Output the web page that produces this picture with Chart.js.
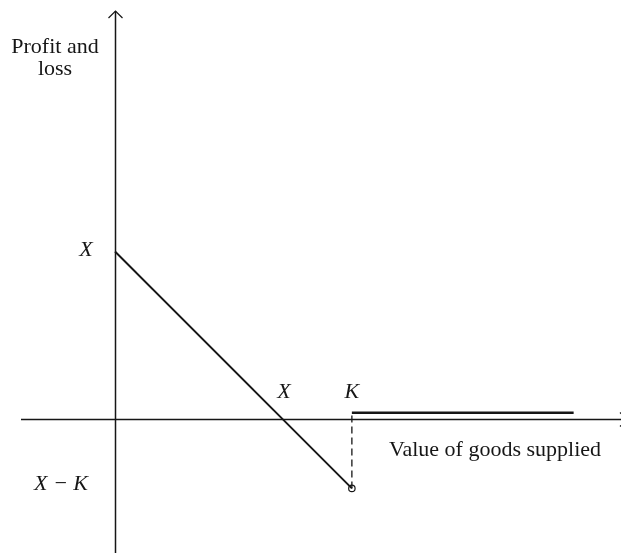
<!DOCTYPE html>
<html>
<head>
<meta charset="utf-8">
<script src="https://cdn.jsdelivr.net/npm/chart.js@4.4.1/dist/chart.umd.min.js"></script>
<style>
  html, body { margin: 0; padding: 0; background: #fff; }
  #wrap { width: 621px; height: 554px; position: relative; }
</style>
</head>
<body>
<div id="wrap"><canvas id="c" width="621" height="554"></canvas></div>
<script>
// ---- Data (value units: X = 100) ----
const X_VALUE = 100;          // intercept X
const K_VALUE = 141;          // strike K
const lossLineX = [0, 141];   // profit/loss line, x values
const lossLineY = [100, -41]; // profit/loss line, y values (X ... X−K)
const flatLineX = [141, 273]; // payoff beyond K
const flatLineY = [4, 4];
const dashX = [141, 141];
const dashY = [-41, 4];
const labelsText = {
  yTitle: ['Profit and', 'loss'],
  xTitle: 'Value of goods supplied',
  xIntercept: 'X',
  yIntercept: 'X',
  strike: 'K',
  minVal: 'X \u2212 K'
};

const pts = (xs, ys) => xs.map((x, i) => ({ x: x, y: ys[i] }));
const INK = '#161616';
const SERIF = '"Liberation Serif", "Times New Roman", serif';

const axesPlugin = {
  id: 'axesPlugin',
  beforeDatasetsDraw(chart) {
    const { ctx, scales: { x, y } } = chart;
    const x0 = Math.round(x.getPixelForValue(0)) + 0.5;
    const y0 = Math.round(y.getPixelForValue(0)) + 0.5;
    ctx.save();
    ctx.strokeStyle = INK;
    ctx.lineWidth = 1.5;
    // y axis
    ctx.beginPath();
    ctx.moveTo(x0, 553);
    ctx.lineTo(x0, 11);
    ctx.stroke();
    // y arrow
    ctx.lineWidth = 1.2;
    ctx.beginPath();
    ctx.moveTo(x0 - 7, 18);
    ctx.lineTo(x0, 11);
    ctx.lineTo(x0 + 7, 18);
    ctx.stroke();
    // x axis
    ctx.lineWidth = 1.5;
    ctx.beginPath();
    ctx.moveTo(21, y0);
    ctx.lineTo(627, y0);
    ctx.stroke();
    ctx.lineWidth = 1.2;
    ctx.beginPath();
    ctx.moveTo(620, y0 - 7);
    ctx.lineTo(627, y0);
    ctx.lineTo(620, y0 + 7);
    ctx.stroke();
    ctx.restore();
  },
  afterDraw(chart) {
    const { ctx, scales: { x, y } } = chart;
    const x0 = x.getPixelForValue(0);
    const y0 = y.getPixelForValue(0);
    ctx.save();
    ctx.fillStyle = INK;
    ctx.textBaseline = 'alphabetic';
    ctx.font = '22px ' + SERIF;
    ctx.textAlign = 'center';
    ctx.fillText(labelsText.yTitle[0], 55, 53);
    ctx.fillText(labelsText.yTitle[1], 55, 75);
    ctx.textAlign = 'left';
    ctx.fillText(labelsText.xTitle, 389, 456);
    ctx.font = 'italic 22px ' + SERIF;
    ctx.textAlign = 'center';
    ctx.fillText(labelsText.yIntercept, x0 - 29, y.getPixelForValue(X_VALUE) + 5);
    ctx.fillText(labelsText.xIntercept, x.getPixelForValue(X_VALUE) + 1, y0 - 21);
    ctx.fillText(labelsText.strike, x.getPixelForValue(K_VALUE), y0 - 21);
    ctx.fillText(labelsText.minVal, x0 - 54, y.getPixelForValue(lossLineY[1]) + 2);
    ctx.restore();
  }
};

new Chart(document.getElementById('c'), {
  type: 'scatter',
  data: {
    datasets: [
      {
        data: pts(lossLineX, lossLineY),
        showLine: true, borderColor: INK, borderWidth: 1.9,
        pointRadius: 0, fill: false
      },
      {
        data: pts(dashX, dashY),
        showLine: true, borderColor: INK, borderWidth: 1.3,
        borderDash: [7, 4], pointRadius: 0, fill: false
      },
      {
        data: pts(flatLineX, flatLineY),
        showLine: true, borderColor: INK, borderWidth: 2.4,
        pointRadius: 0, fill: false, borderCapStyle: 'butt'
      },
      {
        data: [{ x: lossLineX[1], y: lossLineY[1] }],
        showLine: false, pointRadius: 3.2, pointBorderWidth: 1.2,
        pointBorderColor: INK, pointBackgroundColor: '#fff'
      }
    ]
  },
  options: {
    responsive: false,
    animation: false,
    layout: { padding: 0, autoPadding: false },
    plugins: { legend: { display: false }, tooltip: { enabled: false } },
    scales: {
      x: { type: 'linear', display: false, min: -68.45, max: 301.19 },
      y: { type: 'linear', display: false, min: -80.06, max: 249.7 }
    }
  },
  plugins: [axesPlugin]
});
</script>
</body>
</html>
